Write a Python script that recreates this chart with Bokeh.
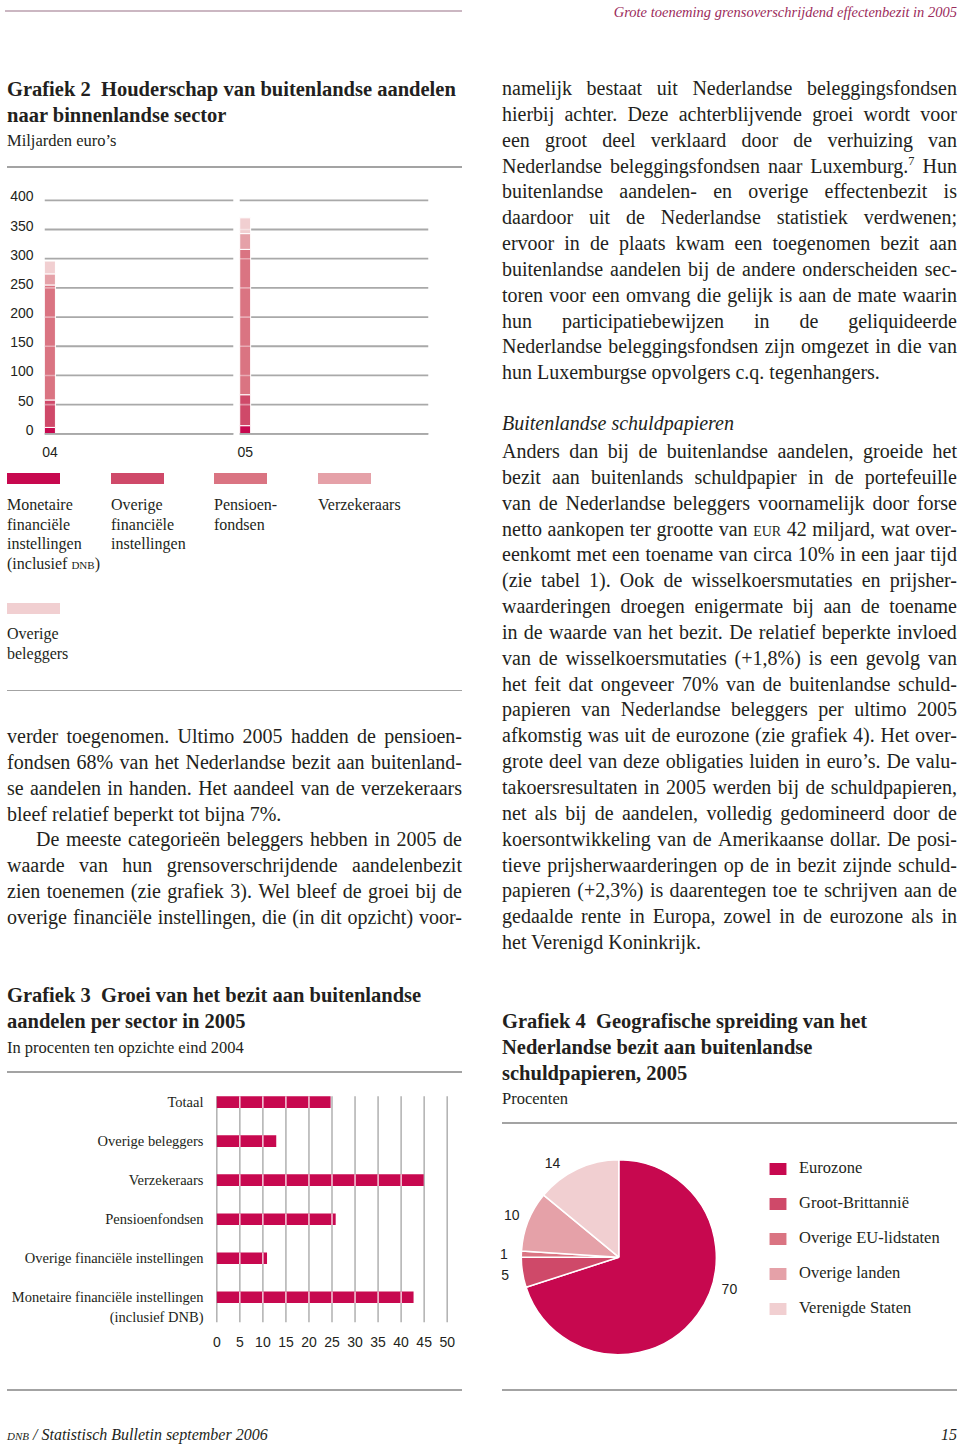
import math
import re
from bokeh.plotting import figure
from bokeh.layouts import column, row
from bokeh.models import (Div, Range1d, LinearAxis, FixedTicker, ColumnDataSource,
                          Legend, LegendItem, Spacer)
from bokeh.core.properties import value
from bokeh.embed import file_html
from bokeh.resources import INLINE

# ---------------- data ----------------
# Grafiek 2: Houderschap van buitenlandse aandelen (miljarden euro's)
g2_years = ["04", "05"]
g2_mfi = [11, 14]
g2_ofi = [47, 53]
g2_pens = [197, 249]
g2_verz = [19, 27]
g2_ob = [22, 27]
g2_yticks = [0, 50, 100, 150, 200, 250, 300, 350, 400]
g2_legend_labels = [
    ["Monetaire", "financiële", "instellingen", "(inclusief [sc:dnb])"],
    ["Overige", "financiële", "instellingen"],
    ["Pensioen-", "fondsen"],
    ["Verzekeraars"],
    ["Overige", "beleggers"],
]

# Grafiek 3: Groei van het bezit aan buitenlandse aandelen per sector in 2005 (%)
g3_categories = ["Totaal", "Overige beleggers", "Verzekeraars", "Pensioenfondsen",
                 "Overige financiële instellingen", "Monetaire financiële instellingen"]
g3_sublabel = "(inclusief DNB)"
g3_growth = [24.7, 12.9, 44.9, 25.8, 10.9, 42.7]
g3_xticks = [0, 5, 10, 15, 20, 25, 30, 35, 40, 45, 50]

# Grafiek 4: Geografische spreiding schuldpapieren 2005 (%)
g4_regions = ["Eurozone", "Groot-Brittannië", "Overige EU-lidstaten", "Overige landen", "Verenigde Staten"]
g4_shares = [70, 5, 1, 10, 14]

# ---------------- styles ----------------
PAL = ["#c7084f", "#cf4969", "#da7482", "#e5a1a8", "#f1cfd1"]
INK = "#231f20"
GRID = "#a9a9a9"
RULE = "#a3a3a3"
HDR = "#9b2b5b"
SERIF = "'Liberation Serif', serif"
SANS = "'Liberation Sans', sans-serif"
COLW = 455
RPAD = 10  # extra room left of the right column (for pie labels)


def fmt(w):
    w = re.sub(r"\[sc:([^\]]*)\]", r'<span style="font-variant:small-caps;">\1</span>', w)
    w = re.sub(r"\^(\w+)", r'<span style="font-size:0.62em;position:relative;top:-0.6em;">\1</span>', w)
    return w


def tline(x, base, text, size=20, width=None, justify=False, weight="normal", style="normal",
          color=INK, family=SERIF, align="left"):
    lh = round(size * 1.3, 2)
    asc, dsc = (0.891, 0.216) if "Serif" in family else (0.905, 0.212)
    top = base - ((lh - (asc + dsc) * size) / 2 + asc * size)
    side = "left" if align == "left" else "right"
    st = (f"position:absolute;{side}:{x}px;top:{top:.2f}px;height:{lh}px;line-height:{lh}px;"
          f"font-family:{family};font-size:{size}px;font-weight:{weight};font-style:{style};"
          f"color:{color};white-space:nowrap;margin:0;padding:0;")
    ws = [fmt(w) for w in text.split(" ")]
    if justify:
        st += f"width:{width}px;display:flex;justify-content:space-between;"
        inner = "".join(f"<span>{w}</span>" for w in ws)
    else:
        inner = " ".join(ws)
    return f'<div style="{st}">{inner}</div>'


def hrule(x, y, w, color=RULE, th=1.8):
    return (f'<div style="position:absolute;left:{x}px;top:{y - th / 2:.2f}px;width:{w}px;'
            f'height:{th}px;background:{color};"></div>')


def swatch(x, y, w, h, color):
    return (f'<div style="position:absolute;left:{x}px;top:{y}px;width:{w}px;height:{h}px;'
            f'background:{color};"></div>')


def paragraph(x, base0, lines, width, size=20, pitch=25.85, last_justified=False, indent=0):
    out = []
    for i, ln in enumerate(lines):
        last = i == len(lines) - 1
        ind = indent if i == 0 else 0
        out.append(tline(x + ind, base0 + i * pitch, ln, size, width - ind,
                         justify=(not last) or last_justified))
    return out


def make_div(w, h, parts, xoff=0):
    html = (f'<div style="position:relative;width:{w}px;height:{h}px;margin:0;padding:0;'
            f'font-family:{SERIF};color:{INK};">'
            f'<div style="position:absolute;left:{xoff}px;top:0px;width:{w - xoff}px;height:{h}px;">'
            + "".join(parts) + "</div></div>")
    return Div(text=html, width=w, height=h, margin=0, styles={"overflow": "visible"})


def style_axis(ax, standoff, font, size):
    ax.axis_line_color = None
    ax.major_tick_line_color = None
    ax.minor_tick_line_color = None
    ax.major_tick_out = 0
    ax.major_tick_in = 0
    ax.major_label_standoff = standoff
    ax.major_label_text_font = font
    ax.major_label_text_font_size = size
    ax.major_label_text_color = INK


# ---------------- header (page y 0-38) ----------------
header = make_div(960, 38, [
    hrule(5, 11, 457, "#cbb7c2", 1.5),
    tline(3, 17, "Grote toeneming grensoverschrijdend effectenbezit in 2005", 14.5, style="italic",
          color=HDR, align="right"),
])

# ---------------- left column: block A (page y 38-185) ----------------
divA = make_div(COLW, 147, [
    tline(0, 58.7, "Grafiek 2&nbsp; Houderschap van buitenlandse aandelen", 20.5, weight="bold"),
    tline(0, 84.3, "naar binnenlandse sector", 20.5, weight="bold"),
    tline(0, 108, "Miljarden euro’s", 16.5),
    hrule(0, 128.7, COLW),
])

# ---------------- Grafiek 2 (page y 185-466) ----------------
bw = 0.056
panel_len = 0.967
y0, y1 = -8, 410
frame_h = 281 - 9 - 28
shift = 4 / (frame_h / (y1 - y0))
xs = list(range(len(g2_years)))
p2 = figure(width=COLW, height=281, x_range=Range1d(-bw / 2, xs[-1] - bw / 2 + panel_len),
            y_range=Range1d(y0, y1), output_backend="svg", toolbar_location=None,
            x_axis_location=None, y_axis_location=None, min_border_left=36, min_border_right=34,
            min_border_top=9, min_border_bottom=28, outline_line_color=None, margin=0)
p2.frame_align = False
p2.grid.visible = False
p2.extra_y_ranges = {"lab": Range1d(y0 - shift, y1 - shift)}
yax = LinearAxis(y_range_name="lab", ticker=FixedTicker(ticks=g2_yticks))
xax = LinearAxis(ticker=FixedTicker(ticks=xs),
                 major_label_overrides={i: g2_years[i] for i in xs})
style_axis(yax, 11, "Liberation Sans", "14px")
style_axis(xax, 8, "Liberation Sans", "14px")
p2.add_layout(yax, "left")
p2.add_layout(xax, "below")

gx0, gx1, gy = [], [], []
for i in xs:
    for t in g2_yticks:
        gx0.append(i - bw / 2)
        gx1.append(i - bw / 2 + panel_len)
        gy.append(t)
p2.segment(x0=gx0, x1=gx1, y0=gy, y1=gy, line_color=GRID, line_width=1.8)

src2 = ColumnDataSource(dict(x=xs, mfi=g2_mfi, ofi=g2_ofi, pens=g2_pens, verz=g2_verz, ob=g2_ob))
p2.vbar_stack(["mfi", "ofi", "pens", "verz", "ob"], x="x", width=bw, color=PAL,
              line_color="white", line_width=1, source=src2)
totals = [a + b + c + d + e for a, b, c, d, e in zip(g2_mfi, g2_ofi, g2_pens, g2_verz, g2_ob)]
wx0, wx1, wy = [], [], []
for i in xs:
    for t in g2_yticks:
        if 0 < t < totals[i]:
            wx0.append(i - bw / 2)
            wx1.append(i + bw / 2)
            wy.append(t)
p2.segment(x0=wx0, x1=wx1, y0=wy, y1=wy, line_color="white", line_alpha=0.4, line_width=1.6)
p2.segment(x0=[i - bw / 2 for i in xs], x1=[i - bw / 2 + panel_len for i in xs],
           y0=[g2_yticks[0]] * len(xs), y1=[g2_yticks[0]] * len(xs), line_color=GRID, line_width=1.8)

# ---------------- left column: block B (page y 466-1085) ----------------
partsB = []
leg_x = [0, 104, 207, 311]
for k in range(4):
    partsB.append(swatch(leg_x[k], 7.3, 53, 11, PAL[k]))
    for j, t in enumerate(g2_legend_labels[k]):
        partsB.append(tline(leg_x[k], 45 + 19.5 * j, t, 16))
partsB.append(swatch(0, 136.7, 53, 11.5, PAL[4]))
for j, t in enumerate(g2_legend_labels[4]):
    partsB.append(tline(0, 174 + 19.3 * j, t, 16))
partsB.append(hrule(0, 224.5, COLW))

left_para1 = [
    "verder toegenomen. Ultimo 2005 hadden de pensioen-",
    "fondsen 68% van het Nederlandse bezit aan buitenland-",
    "se aandelen in handen. Het aandeel van de verzekeraars",
    "bleef relatief beperkt tot bijna 7%.",
]
left_para2 = [
    "De meeste categorieën beleggers hebben in 2005 de",
    "waarde van hun grensoverschrijdende aandelenbezit",
    "zien toenemen (zie grafiek 3). Wel bleef de groei bij de",
    "overige financiële instellingen, die (in dit opzicht) voor-",
]
partsB += paragraph(0, 276.7, left_para1, COLW)
partsB += paragraph(0, 276.7 + 4 * 25.85, left_para2, COLW, last_justified=True, indent=29)
partsB += [
    tline(0, 536.5, "Grafiek 3&nbsp; Groei van het bezit aan buitenlandse", 20.5, weight="bold"),
    tline(0, 562.5, "aandelen per sector in 2005", 20.5, weight="bold"),
    tline(0, 587.3, "In procenten ten opzichte eind 2004", 16.5),
    hrule(0, 606.3, COLW),
]
divB = make_div(COLW, 619, partsB)

# ---------------- Grafiek 3 (page y 1085-1370) ----------------
n3 = len(g3_categories)
ypos = [n3 - 1 - i for i in range(n3)]
bh = 0.3
p3 = figure(width=COLW, height=285, x_range=Range1d(-0.5, 50.5), y_range=Range1d(-0.75, 5.3),
            output_backend="svg", toolbar_location=None, x_axis_location=None, y_axis_location=None,
            min_border_left=207, min_border_right=13, min_border_top=5, min_border_bottom=44,
            outline_line_color=None, margin=0)
p3.frame_align = False
p3.grid.visible = False
sub_y = ypos[-1] - 0.5
overrides3 = {ypos[i]: g3_categories[i] for i in range(n3)}
overrides3[sub_y] = g3_sublabel
yax3 = LinearAxis(ticker=FixedTicker(ticks=ypos + [sub_y]), major_label_overrides=overrides3)
xax3 = LinearAxis(ticker=FixedTicker(ticks=g3_xticks))
style_axis(yax3, 11, "Liberation Serif", "14.5px")
style_axis(xax3, 10, "Liberation Sans", "14px")
p3.add_layout(yax3, "left")
p3.add_layout(xax3, "below")

p3.segment(x0=g3_xticks, x1=g3_xticks, y0=[ypos[-1] - 0.64] * len(g3_xticks),
           y1=[ypos[0] + bh / 2] * len(g3_xticks), line_color="#b0b0b0", line_width=1.5)
p3.hbar(y=ypos, left=0, right=g3_growth, height=bh, fill_color=PAL[0], line_color=None)
sx, sy0, sy1 = [], [], []
for yv, v in zip(ypos, g3_growth):
    for t in g3_xticks:
        if 0 < t < v:
            sx.append(t)
            sy0.append(yv - bh / 2)
            sy1.append(yv + bh / 2)
p3.segment(x0=sx, x1=sx, y0=sy0, y1=sy1, line_color="white", line_width=1.2)

left = column(divA, p2, divB, p3, spacing=0)

# ---------------- right column text (page y 38-1140) ----------------
right_para1 = [
    "namelijk bestaat uit Nederlandse beleggingsfondsen",
    "hierbij achter. Deze achterblijvende groei wordt voor",
    "een groot deel verklaard door de verhuizing van",
    "Nederlandse beleggingsfondsen naar Luxemburg.^7 Hun",
    "buitenlandse aandelen- en overige effectenbezit is",
    "daardoor uit de Nederlandse statistiek verdwenen;",
    "ervoor in de plaats kwam een toegenomen bezit aan",
    "buitenlandse aandelen bij de andere onderscheiden sec-",
    "toren voor een omvang die gelijk is aan de mate waarin",
    "hun participatiebewijzen in de geliquideerde",
    "Nederlandse beleggingsfondsen zijn omgezet in die van",
    "hun Luxemburgse opvolgers c.q. tegenhangers.",
]
right_para2 = [
    "Anders dan bij de buitenlandse aandelen, groeide het",
    "bezit aan buitenlands schuldpapier in de portefeuille",
    "van de Nederlandse beleggers voornamelijk door forse",
    "netto aankopen ter grootte van [sc:eur] 42 miljard, wat over-",
    "eenkomt met een toename van circa 10% in een jaar tijd",
    "(zie tabel 1). Ook de wisselkoersmutaties en prijsher-",
    "waarderingen droegen enigermate bij aan de toename",
    "in de waarde van het bezit. De relatief beperkte invloed",
    "van de wisselkoersmutaties (+1,8%) is een gevolg van",
    "het feit dat ongeveer 70% van de buitenlandse schuld-",
    "papieren van Nederlandse beleggers per ultimo 2005",
    "afkomstig was uit de eurozone (zie grafiek 4). Het over-",
    "grote deel van deze obligaties luiden in euro’s. De valu-",
    "takoersresultaten in 2005 werden bij de schuldpapieren,",
    "net als bij de aandelen, volledig gedomineerd door de",
    "koersontwikkeling van de Amerikaanse dollar. De posi-",
    "tieve prijsherwaarderingen op de in bezit zijnde schuld-",
    "papieren (+2,3%) is daarentegen toe te schrijven aan de",
    "gedaalde rente in Europa, zowel in de eurozone als in",
    "het Verenigd Koninkrijk.",
]
partsR = []
partsR += paragraph(0, 56.7, right_para1, COLW)
partsR.append(tline(0, 392, "Buitenlandse schuldpapieren", 20, style="italic"))
partsR += paragraph(0, 419.7, right_para2, COLW)
partsR += [
    tline(0, 990.3, "Grafiek 4&nbsp; Geografische spreiding van het", 20.5, weight="bold"),
    tline(0, 1016.3, "Nederlandse bezit aan buitenlandse", 20.5, weight="bold"),
    tline(0, 1042, "schuldpapieren, 2005", 20.5, weight="bold"),
    tline(0, 1066.3, "Procenten", 16.5),
    hrule(0, 1085.3, COLW),
]
RW = COLW + RPAD
divR = make_div(RW, 1102, partsR, xoff=RPAD)

# ---------------- Grafiek 4 pie (page y 1140-1370) ----------------
W4, H4 = RW, 230
R = 97.5
cx, cy = 116.3 + RPAD, 116.7
p4 = figure(width=W4, height=H4, x_range=Range1d(-cx / R, (W4 - cx) / R),
            y_range=Range1d(-(H4 - cy) / R, cy / R), output_backend="svg", toolbar_location=None,
            x_axis_location=None, y_axis_location=None, min_border=0, outline_line_color=None,
            margin=0)
p4.frame_align = False
p4.grid.visible = False
total4 = sum(g4_shares)
starts, ends, mids = [], [], []
cum = 0
for v in g4_shares:
    starts.append(math.pi / 2 - 2 * math.pi * cum / total4)
    mids.append(360 * (cum + v / 2) / total4)
    cum += v
    ends.append(math.pi / 2 - 2 * math.pi * cum / total4)
src4 = ColumnDataSource(dict(start=starts, end=ends, color=PAL, label=g4_regions))
wr = p4.wedge(x=0, y=0, radius=1, start_angle="start", end_angle="end", direction="clock",
              fill_color="color", line_color="white", line_width=1.5, source=src4)

label_r = 1.18
label_angle_adjust = [-20, 0, 0, 0, -10]
lx = [label_r * math.sin(math.radians(m + a)) for m, a in zip(mids, label_angle_adjust)]
ly = [label_r * math.cos(math.radians(m + a)) for m, a in zip(mids, label_angle_adjust)]
p4.text(x=lx, y=ly, text=[str(v) for v in g4_shares], text_align="center", text_baseline="middle",
        text_font=value("Liberation Sans"), text_font_size="14px", text_color=INK)

legend = Legend(items=[LegendItem(label=g4_regions[i], renderers=[wr], index=i) for i in range(len(g4_regions))],
                location=(264 + RPAD, 52), orientation="vertical", glyph_width=23, glyph_height=17,
                label_height=17, spacing=15, padding=0, margin=0, label_standoff=10,
                border_line_color=None, background_fill_alpha=0,
                label_text_font="Liberation Serif", label_text_font_size="16.5px",
                label_text_color=INK)
p4.add_layout(legend)

right = column(divR, p4, spacing=0)

# ---------------- footer (page y 1370-1446) ----------------
footer = make_div(960, 76, [
    hrule(7, 20, COLW),
    hrule(502, 20, COLW),
    tline(7, 71, "[sc:dnb] / Statistisch Bulletin september 2006", 16, style="italic"),
    tline(3, 71, "15", 16, style="italic", align="right"),
])

body = row(Spacer(width=7, height=1332, margin=0), left, Spacer(width=40 - RPAD, height=1332, margin=0),
           right, spacing=0)
page = column(header, body, footer, spacing=0)

open("out.html", "w").write(file_html(page, INLINE, title="Statistisch Bulletin"))
